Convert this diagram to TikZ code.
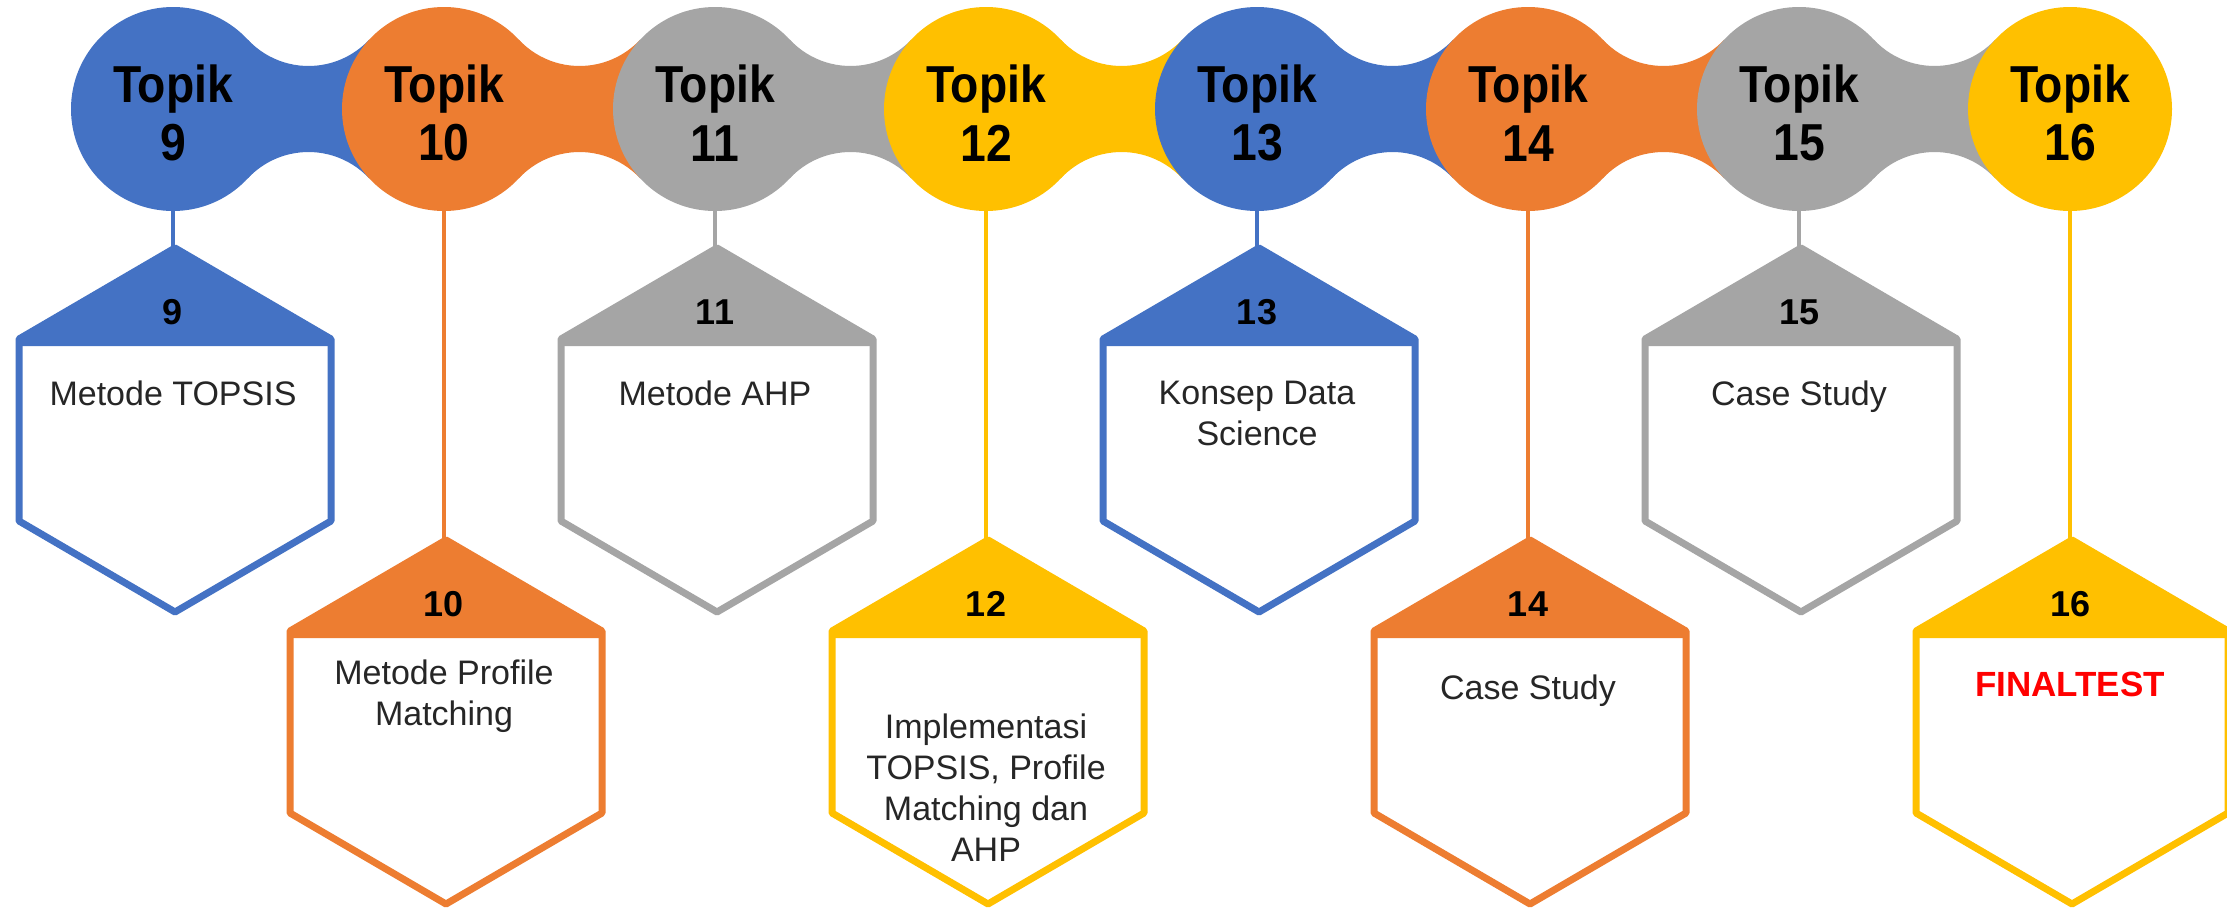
\documentclass[tikz,border=0pt]{standalone}
\usepackage{fontspec}
\setmainfont{Liberation Sans}
\newfontfamily\topikfont[FakeStretch=0.89]{Liberation Sans}
\usetikzlibrary{calc}
\definecolor{cblue}{HTML}{4472C4}
\definecolor{corange}{HTML}{ED7D31}
\definecolor{cgray}{HTML}{A5A5A5}
\definecolor{cyellow}{HTML}{FFC000}
\definecolor{ctext}{HTML}{262626}
\definecolor{cred}{HTML}{FF0000}
\begin{document}
\begin{tikzpicture}[x=1pt,y=-1pt,
  topic/.style={circle, inner sep=0pt, minimum size=204pt, draw=none},
  topiclabel/.style={font=\topikfont\fontsize{52}{58.5}\selectfont\bfseries, align=center, text=black, inner sep=0pt},
  stemline/.style={line width=4.5pt},
  hexline/.style={line width=7pt, line join=round, fill=white},
  numlabel/.style={font=\fontsize{36}{40}\selectfont\bfseries, text=black, inner sep=0pt},
  bodytext/.style={font=\fontsize{34}{41}\selectfont, text=ctext, align=center, inner sep=0pt, anchor=north},
  finaltext/.style={font=\fontsize{35}{41}\selectfont\bfseries, text=cred, align=center, inner sep=0pt, anchor=north}
]
\useasboundingbox (0,0) rectangle (2227,911);
\fill[white] (0,0) rectangle (2227,911);

% centres of the topic circles
\foreach \k/\n in {0/9,1/10,2/11,3/12,4/13,5/14,6/15,7/16}
  \coordinate (p\n) at ({173+271*\k},109);

% connecting bands
\foreach \a/\c in {9/cblue,10/corange,11/cgray,12/cyellow,13/cblue,14/corange,15/cgray}
  \fill[\c] ($(p\a)+(74.7,-69.5)$) arc[start angle=137.1, end angle=42.9, radius=83]
     -- ($(p\a)+(196.3,69.5)$) arc[start angle=-42.9, end angle=-137.1, radius=83] -- cycle;

% topic circles and labels
\foreach \n/\c in {9/cblue,10/corange,11/cgray,12/cyellow,13/cblue,14/corange,15/cgray,16/cyellow}{
  \node[topic, fill=\c] (c\n) at (p\n) {};
  \node[topiclabel] (t\n) at ($(p\n)+(0,4)$) {Topik\\\n};
}

% hexagons
\foreach \n/\c/\cy in {9/cblue/430,10/corange/722,11/cgray/430,12/cyellow/722,13/cblue/430,14/corange/722,15/cgray/430,16/cyellow/722}{
  \coordinate (h\n) at ($(p\n|-0,\cy)+(0,-182)$);
  \coordinate (hv\n) at ($(h\n)+(2,0)$);
  \draw[hexline, draw=\c] (hv\n) -- ++(156,91) -- ++(0,182) -- ++(-156,91) -- ++(-156,-91) -- ++(0,-182) -- cycle;
  \fill[\c] (hv\n) -- ++(156,91) -- ++(0,7) -- ++(-312,0) -- ++(0,-7) -- cycle;
  \draw[stemline, draw=\c] (c\n.south) -- (h\n);
  \node[numlabel] (n\n) at ($(h\n)+(0,64)$) {\n};
}

% texts
\node[bodytext] (b9)  at ($(h9)+(0,132.5)$) {Metode TOPSIS};
\node[bodytext] (b10) at ($(h10)+(0,119.5)$) {Metode Profile\\Matching};
\node[bodytext] (b11) at ($(h11)+(0,132.5)$) {Metode AHP};
\node[bodytext] (b12) at ($(h12)+(0,173.5)$) {Implementasi\\TOPSIS, Profile\\Matching dan\\AHP};
\node[bodytext] (b13) at ($(h13)+(0,132.5)$) {Konsep Data\\Science};
\node[bodytext] (b14) at ($(h14)+(0,134.5)$) {Case Study};
\node[bodytext] (b15) at ($(h15)+(0,132.5)$) {Case Study};
\node[finaltext] (b16) at ($(h16)+(0,131.5)$) {FINALTEST};
\end{tikzpicture}
\end{document}
